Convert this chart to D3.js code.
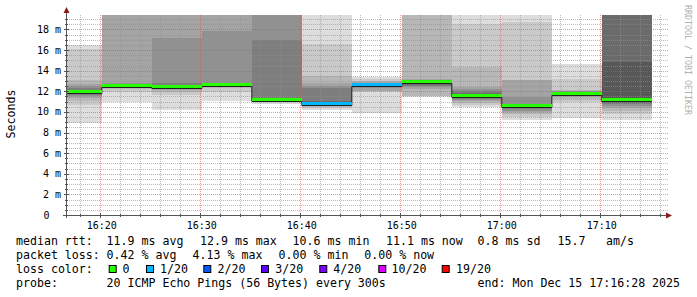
<!DOCTYPE html>
<html><head><meta charset="utf-8">
<script src="https://cdn.jsdelivr.net/npm/d3@7/dist/d3.min.js"></script>
<style>body{margin:0;background:#fff}svg{display:block}text{font-family:"DejaVu Sans Mono",monospace}</style>
</head><body><svg id="c" width="697" height="297"></svg>
<script>
// ---- data ----
const windowStart = "16:16:28";
const windowEnd = "17:16:28";
const intervalEnds = ["16:20","16:25","16:30","16:35","16:40","16:45","16:50","16:55","17:00","17:05","17:10","17:15"];
const medians = [11.9, 12.5, 12.4, 12.6, 11.2, 10.77, 12.65, 12.9, 11.55, 10.55, 11.78, 11.13];
const lossPings = [0, 0, 0, 0, 0, 1, 1, 0, 0, 0, 0, 0];
// 20 sorted ping times (ms) per 5-minute interval
const pings1620 = [8.95,10.7,11.1,11.35,11.5,11.62,11.72,11.8,11.85,11.88,11.92,11.98,12.05,12.15,12.3,12.5,12.75,13.05,16.1,16.45];
const pings1625 = [10.95,11.9,12.25,12.35,12.4,12.43,12.45,12.47,12.48,12.49,12.51,12.53,12.56,12.6,12.7,12.8,20.6,22.3,24.8,28.5];
const pings1630 = [10.16,11.6,11.95,12.1,12.2,12.27,12.32,12.35,12.37,12.39,12.41,12.44,12.48,12.55,12.8,17.15,20.3,21.5,23.9,27.0];
const pings1635 = [11.03,11.93,12.36,12.42,12.46,12.5,12.53,12.55,12.57,12.59,12.61,12.63,12.66,12.72,12.8,17.8,20.2,21.9,24.1,26.7];
const pings1640 = [10.72,10.92,11.02,11.07,11.1,11.13,11.15,11.17,11.18,11.19,11.21,11.23,11.26,11.35,17.0,20.1,21.2,22.6,24.5,28.0];
const pings1645 = [10.22,10.4,10.5,10.56,10.62,10.66,10.7,10.73,10.75,10.76,10.78,10.82,10.9,11.05,12.3,12.5,12.8,13.5,16.6,21.0];
const pings1650 = [9.9,11.93,12.0,12.05,12.35,12.5,12.57,12.6,12.62,12.64,12.66,12.68,12.7,12.73,12.77,12.82,12.88,12.95,13.15,13.4];
const pings1655 = [11.45,11.5,11.55,12.26,12.4,12.55,12.65,12.75,12.82,12.87,12.93,12.97,13.0,13.03,13.06,13.1,13.15,20.5,22.0,25.0];
const pings1700 = [10.45,10.7,10.9,11.05,11.2,11.3,11.4,11.47,11.51,11.54,11.56,11.6,11.7,11.85,12.0,12.2,12.45,14.35,18.5,21.0];
const pings1705 = [9.2,9.5,9.75,9.95,10.1,10.25,10.35,10.45,10.5,10.53,10.57,10.62,10.66,10.7,10.75,11.45,13.06,13.1,18.7,21.5];
const pings1710 = [9.45,10.95,11.2,11.4,11.55,11.63,11.69,11.73,11.76,11.77,11.79,11.82,11.86,11.9,11.95,12.0,12.05,12.1,13.2,14.6];
const pings1715 = [9.2,9.84,10.1,10.35,10.55,10.72,10.85,10.95,11.03,11.1,11.16,11.3,14.8,20.3,21.2,22.4,23.8,25.5,27.9,31.0];
const pingSets = [pings1620,pings1625,pings1630,pings1635,pings1640,pings1645,pings1650,pings1655,pings1700,pings1705,pings1710,pings1715];
const yMax = 19.4;
const yMajorTicks = [0,2,4,6,8,10,12,14,16,18];
const yTickLabels = ["0","2 m","4 m","6 m","8 m","10 m","12 m","14 m","16 m","18 m"];
const xMajorTicks = ["16:20","16:30","16:40","16:50","17:00","17:10"];
const lossLevels = [0,1,2,3,4,10,19];
const lossLabels = ["0","1/20","2/20","3/20","4/20","10/20","19/20"];
const lossColors = ["#26ff00","#00b8ff","#0059ff","#5e00ff","#7e00ff","#dd00ff","#ff0000"];
const legendRtt = ["median rtt:","11.9 ms avg","12.9 ms max","10.6 ms min","11.1 ms now","0.8 ms sd","15.7","am/s"];
const legendLoss = ["packet loss:","0.42 % avg","4.13 % max","0.00 % min","0.00 % now"];
const legendProbe = ["probe:","20 ICMP Echo Pings (56 Bytes) every 300s","end: Mon Dec 15 17:16:28 2025"];

// ---- drawing ----
const svg = d3.select("#c");
const T = s => { const p = s.split(":").map(Number); return new Date(2025,11,15,p[0],p[1],p[2]||0); };
const t0 = T(windowStart), t1 = T(windowEnd);
const x = d3.scaleTime().domain([t0,t1]).range([66.5,666.5]);
const y = d3.scaleLinear().domain([0,yMax]).range([215,15]);

svg.append("defs").append("clipPath").attr("id","pc").append("rect")
  .attr("x",66.5).attr("y",15).attr("width",600).attr("height",200);
const plot = svg.append("g").attr("clip-path","url(#pc)");

// smoke
const half = 10;
const smokeColor = k => { const c = Math.floor(190/half*(half-k))+50; return d3.rgb(c,c,c).formatHex(); };
intervalEnds.forEach((e,i) => {
  const te = T(e), ts = d3.timeMinute.offset(te,-5);
  const xa = x(ts < t0 ? t0 : ts), xb = x(te);
  const cp = pingSets[i];
  for (let k=1;k<=half;k++){
    const lo = cp[k-1], hi = cp[20-k];
    plot.append("rect").attr("x",xa).attr("width",xb-xa)
      .attr("y",y(hi)).attr("height",y(lo)-y(hi))
      .attr("fill",smokeColor(k)).attr("shape-rendering","crispEdges");
  }
});

// grid
const grid = svg.append("g");
const minorX = d3.timeMinute.every(2).range(T("16:17"), t1);
minorX.forEach(t => {
  const major = t.getMinutes()%10===0;
  const xx = Math.floor(x(t)) - 0.5;
  grid.append("line").attr("x1",xx).attr("x2",xx).attr("y1",15).attr("y2",215)
    .attr("stroke", major ? "rgba(222,79,79,0.6)" : "rgba(143,143,143,0.6)")
    .attr("stroke-dasharray","1,1");
});
d3.range(1,39).forEach(j => {
  const v = j*0.5; const major = j%4===0;
  const yy = Math.round(y(v)) + 0.5;
  grid.append("line").attr("x1",67).attr("x2",668).attr("y1",yy).attr("y2",yy)
    .attr("stroke", major ? "rgba(222,79,79,0.6)" : "rgba(143,143,143,0.6)")
    .attr("stroke-dasharray","1,1");
});

// median line + loss colour band
const stepPts = [];
intervalEnds.forEach((e,i) => {
  const te = T(e), ts = d3.timeMinute.offset(te,-5);
  stepPts.push([x(ts < t0 ? t0 : ts), y(medians[i])]);
  stepPts.push([x(te), y(medians[i])]);
});
svg.append("path").attr("d", d3.line()(stepPts.map(p=>[p[0],Math.round(p[1])+1.5])))
  .attr("fill","none").attr("stroke","#202020").attr("stroke-width",1);
intervalEnds.forEach((e,i) => {
  const te = T(e), ts = d3.timeMinute.offset(te,-5);
  const xa = x(ts < t0 ? t0 : ts), xb = x(te);
  const li = lossLevels.findIndex((l,j)=> lossPings[i] <= l);
  svg.append("rect").attr("x",xa).attr("width",xb-xa)
    .attr("y",Math.round(y(medians[i]))-2).attr("height",3)
    .attr("fill",lossColors[li]).attr("shape-rendering","crispEdges");
});

// axes
const ax = svg.append("g").attr("shape-rendering","crispEdges");
ax.append("line").attr("x1",63).attr("x2",669).attr("y1",215.5).attr("y2",215.5).attr("stroke","#555");
ax.append("line").attr("x1",66.5).attr("x2",66.5).attr("y1",12).attr("y2",218).attr("stroke","#555");
minorX.forEach(t => {
  const major = t.getMinutes()%10===0;
  const xx = Math.floor(x(t)) - 0.5;
  ax.append("line").attr("x1",xx).attr("x2",xx).attr("y1",major?213:214).attr("y2",major?218:217).attr("stroke","#555");
});
d3.range(1,39).forEach(j => {
  const yy = Math.round(y(j*0.5)) + 0.5; const major = j%4===0;
  ax.append("line").attr("x1",major?64:65).attr("x2",major?69:68).attr("y1",yy).attr("y2",yy).attr("stroke","#555");
});
svg.append("path").attr("d","M666,212.5L672,215.5L666,218.5Z").attr("fill","#8b1a1a");
svg.append("path").attr("d","M63.5,13L66.5,7L69.5,13Z").attr("fill","#8b1a1a");

// tick labels
yMajorTicks.forEach((v,i) => {
  svg.append("text").attr("x", v===0 ? 49.5 : 61).attr("y", y(v)+3.5)
    .attr("text-anchor","end").attr("font-size",10).attr("fill","#000").text(yTickLabels[i]);
});
xMajorTicks.forEach(s => {
  svg.append("text").attr("x", x(T(s))).attr("y",228.5).attr("text-anchor","middle")
    .attr("font-size",10).attr("fill","#000").text(s);
});
svg.append("text").attr("transform","translate(15,114) rotate(-90)").attr("text-anchor","middle")
  .attr("font-size",11.6).attr("fill","#000").text("Seconds");
svg.append("text").attr("transform","translate(685,60) rotate(90)").attr("text-anchor","middle")
  .attr("font-size",8.3).attr("fill","#b0b0b0").text("RRDTOOL / TOBI OETIKER");

// legend
const L = (s,xx,yy) => svg.append("text").attr("x",xx).attr("y",yy).attr("font-size",11.6).attr("fill","#000").attr("xml:space","preserve").text(s);
const rttX = [16,106.6,200,292.6,386,477.6,557.6,606];
legendRtt.forEach((s,i)=>L(s,rttX[i],245));
const lossX = [16,106.6,192.6,278.6,364.3];
legendLoss.forEach((s,i)=>L(s,lossX[i],259));
L("loss color:",16,273);
const boxX = [108.7,146,203.3,261,319.3,378.3,441.7];
const labX = [122.6,160,217.6,275.3,333.3,391.6,456];
lossLabels.forEach((s,i)=>{
  svg.append("rect").attr("x",boxX[i]+0.5).attr("y",265.5).attr("width",7).attr("height",7)
    .attr("fill",lossColors[i]).attr("stroke","#000").attr("stroke-width",1);
  L(s,labX[i],273);
});
const probeX = [16,106.6,477.6];
legendProbe.forEach((s,i)=>L(s,probeX[i],287));
</script></body></html>
